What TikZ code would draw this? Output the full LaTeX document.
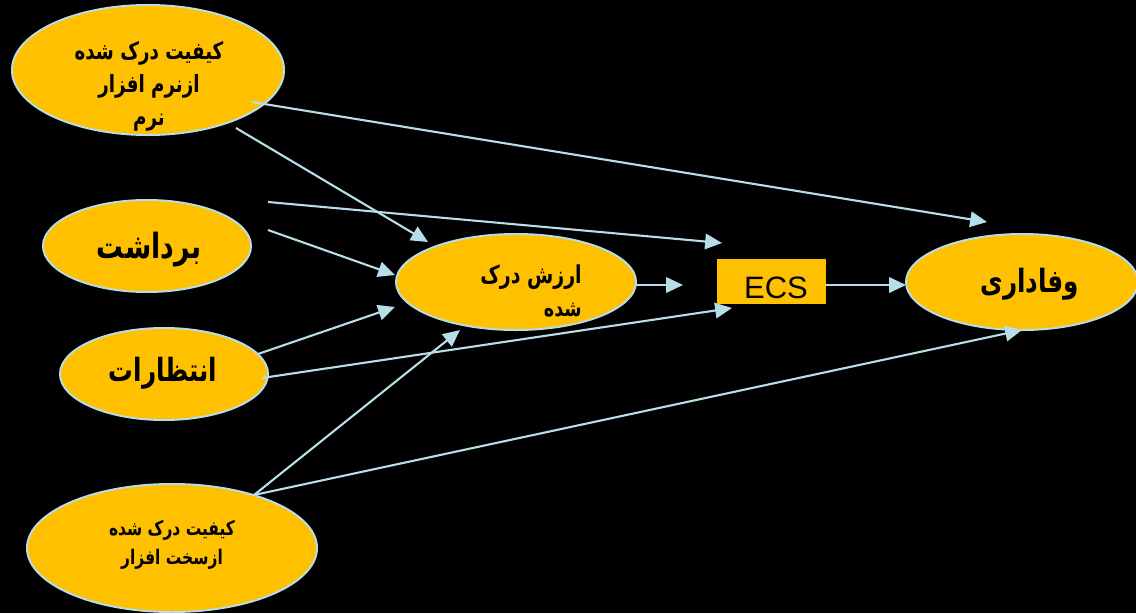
\documentclass[tikz,border=0pt]{standalone}
\usepackage{fontspec}
\usepackage{graphicx}
\setmainfont{Liberation Sans}
\newfontfamily\arabicfont[Script=Arabic]{DejaVu Sans}
\TeXXeTstate=1
\usetikzlibrary{shapes.geometric,arrows.meta}
\definecolor{bgblack}{RGB}{0,0,0}
\definecolor{orfill}{RGB}{255,192,0}
\definecolor{lblue}{RGB}{183,222,232}
\newcommand{\rl}[1]{\scalebox{1}[1.3]{\beginR #1\endR}}
\begin{document}
\begin{tikzpicture}[x=0.025cm,y=-0.025cm,
  oval/.style={ellipse,fill=orfill,draw=lblue,line width=1.4pt,inner sep=0pt},
  lbl/.style={text=black,inner sep=0pt,align=center},
  conn/.style={draw=lblue,line width=1.5pt,-{Triangle[length=12pt,width=11pt]}}]
\fill[bgblack] (0,0) rectangle (1136,613);
\useasboundingbox (0,0) rectangle (1136,613);
% ellipses
\node[oval,minimum width=6.8cm,minimum height=3.25cm] (soft) at (148,70) {};
\node[oval,minimum width=5.2cm,minimum height=2.3cm] (bard) at (147,246) {};
\node[oval,minimum width=5.2cm,minimum height=2.3cm] (ente) at (164,374) {};
\node[oval,minimum width=7.25cm,minimum height=3.2cm] (hard) at (172,548) {};
\node[oval,minimum width=6.0cm,minimum height=2.4cm] (arzesh) at (516,282) {};
\node[oval,minimum width=5.8cm,minimum height=2.4cm] (vafa) at (1022,282) {};
\node[fill=orfill,minimum width=2.725cm,minimum height=1.125cm,inner sep=0pt] (ecs) at (771.5,281.5) {};
% texts
\node[lbl,font=\arabicfont\bfseries\fontsize{13}{23.5}\selectfont] (tsoft) at (149,86)
  {\rl{کیفیت درک شده}\\\rl{ازنرم افزار}\\\rl{نرم}};
\node[lbl,font=\arabicfont\bfseries\fontsize{19}{22}\selectfont] (tbard) at (149,250) {\rl{برداشت}};
\node[lbl,font=\arabicfont\bfseries\fontsize{17.5}{22}\selectfont] (tente) at (163,373) {\rl{انتظارات}};
\node[lbl,font=\arabicfont\bfseries\fontsize{11}{21}\selectfont] (thard) at (172,545)
  {\rl{کیفیت درک شده}\\\rl{ازسخت افزار}};
\node[lbl,anchor=east,font=\arabicfont\bfseries\fontsize{13.5}{14}\selectfont] (tarz1) at (582,277) {\rl{ارزش درک}};
\node[lbl,anchor=east,font=\arabicfont\bfseries\fontsize{12.5}{14}\selectfont] (tarz2) at (582,310) {\rl{شده}};
\node[lbl,font=\arabicfont\bfseries\fontsize{17.5}{20}\selectfont] (tvafa) at (1030,284) {\rl{وفاداری}};
\node[lbl,font=\fontsize{22}{26}\selectfont] (tecs) at (776,288) {ECS};
% connector end points
\coordinate (s1) at (252,102); \coordinate (e1) at (987,222);
\coordinate (s2) at (236,128); \coordinate (e2) at (428,242);
\coordinate (s3) at (268,202); \coordinate (e3) at (722,243);
\coordinate (s4) at (268,230); \coordinate (e4) at (395,275);
\coordinate (s5) at (258,354); \coordinate (e5) at (395,307);
\coordinate (s6) at (262,378); \coordinate (e6) at (732,308);
\coordinate (s7) at (254,495); \coordinate (e7) at (460,330);
\coordinate (e8) at (1022,330);
\coordinate (s9) at (636,285); \coordinate (e9) at (683,285);
\coordinate (s10) at (826,285); \coordinate (e10) at (906,285);
\draw[conn] (s1) -- (e1);
\draw[conn] (s2) -- (e2);
\draw[conn] (s3) -- (e3);
\draw[conn] (s4) -- (e4);
\draw[conn] (s5) -- (e5);
\draw[conn] (s6) -- (e6);
\draw[conn] (s7) -- (e7);
\draw[conn] (s7) -- (e8);
\draw[conn] (s9) -- (e9);
\draw[conn] (s10) -- (e10);
\end{tikzpicture}
\end{document}
